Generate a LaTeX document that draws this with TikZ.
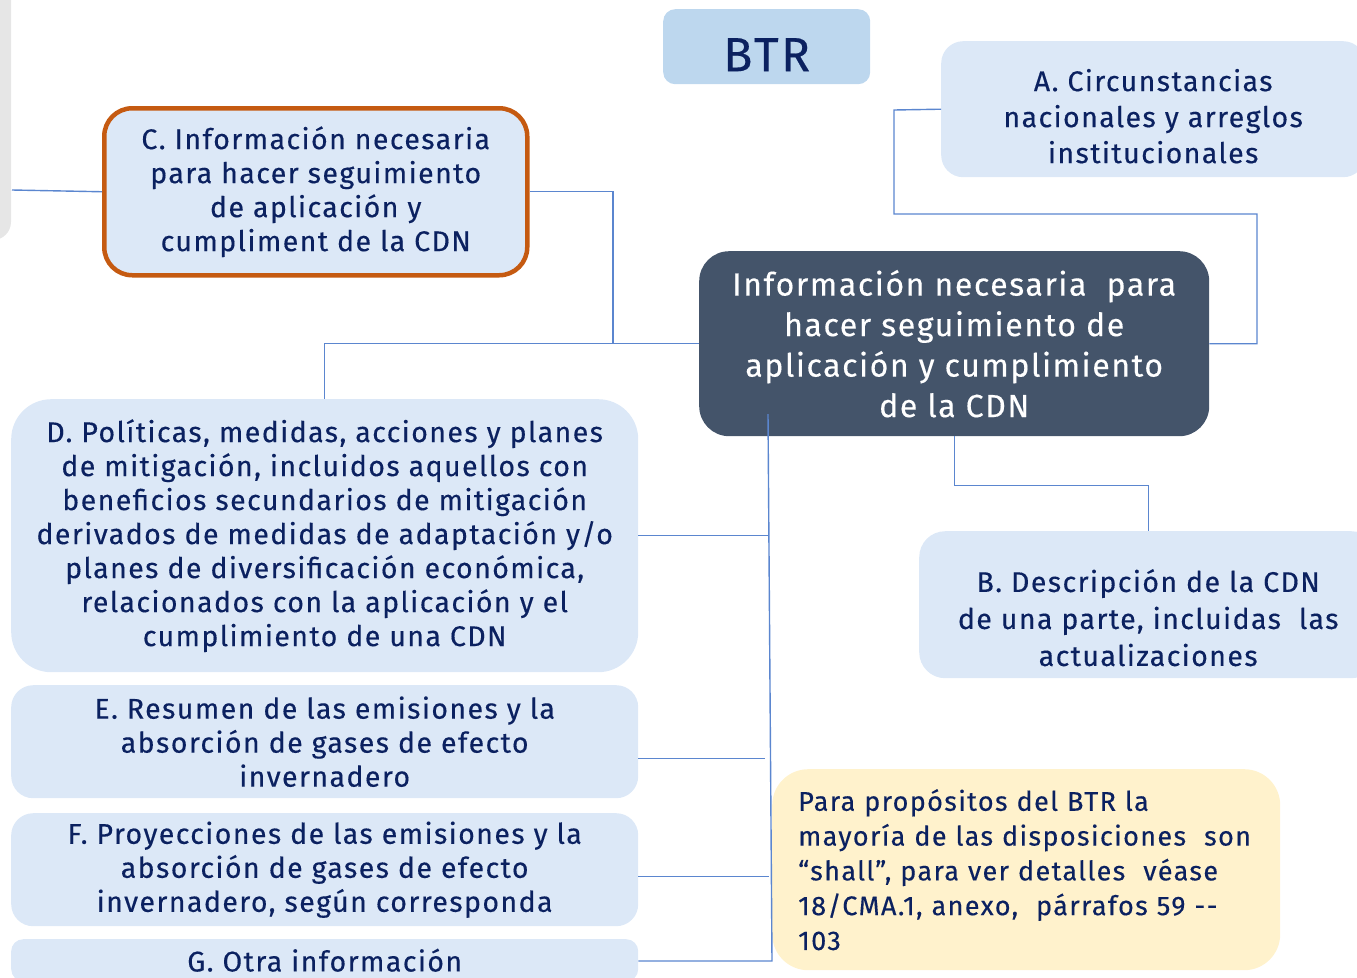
\documentclass[tikz,border=0pt]{standalone}
\usepackage{fontspec}
\setmainfont{Fira Sans}[LetterSpace=5,FakeBold=0.3]
\usetikzlibrary{positioning,calc}
\definecolor{navy}{HTML}{0B2160}
\definecolor{paleblue}{HTML}{DCE8F7}
\definecolor{btrblue}{HTML}{BDD7EE}
\definecolor{slate}{HTML}{44546A}
\definecolor{cream}{HTML}{FFF2CC}
\definecolor{rust}{HTML}{C55A11}
\definecolor{linkblue}{HTML}{5B86CF}
\definecolor{barcolor}{HTML}{E6E6E6}

\begin{document}
\begin{tikzpicture}[x=1pt,y=-1pt,
    box/.style={rectangle,rounded corners=22,fill=paleblue,text=navy,align=center,
      anchor=north west,inner sep=0pt,font=\fontsize{28.5}{34}\selectfont},
    caption/.style={text=navy,align=center,inner sep=0pt,font=\fontsize{28.5}{36}\selectfont},
    link/.style={draw=linkblue,line width=1.4pt}]
 \useasboundingbox (0,0) rectangle (1357,977);
 \fill[barcolor,rounded corners=18] (-30,-30) rectangle (11,240);

 % title and centre
 \node[box,fill=btrblue,minimum width=207,minimum height=75,rounded corners=12] (btr) at (663,9) {};
 \node[caption,font=\fontsize{48}{50}\selectfont] (btr text) at ($(btr.center)+(0,8)$) {BTR};
 \node[box,fill=slate,text=white,minimum width=510,minimum height=185,rounded corners=30,
   font=\fontsize{32}{40.5}\selectfont] (main) at (699,251)
   {Información necesaria\ \ para\\hacer seguimiento de\\aplicación y cumplimiento\\de la CDN};

 % right side
 \node[box,minimum width=424,minimum height=136] (A) at (941,41) {};
 \node[caption] (A text) at ($(A.center)+(0,7)$) {A. Circunstancias\\nacionales y arreglos\\institucionales};
 \node[box,minimum width=458,minimum height=147,rounded corners=26] (B) at (919,531) {};
 \node[caption,font=\fontsize{28.5}{37}\selectfont] (B text) at ($(B.center)+(0,13)$)
   {B. Descripción de la CDN\\de una parte, incluidas\ \ las\\actualizaciones};
 \node[box,fill=cream,minimum width=508,minimum height=201,rounded corners=36,
   text width=456,align=left,font=\fontsize{27}{34.8}\selectfont] (note) at (772,769)
   {Para propósitos del BTR la\\mayoría de las disposiciones\ \ son\\“shall”, para ver detalles\ \ véase\\18/CMA.1, anexo,\ \ párrafos 59 -{}-\\103};

 % left side
 \node[box,draw=rust,line width=4.5pt,minimum width=423,minimum height=167,rounded corners=28] (C) at (102,106)
   {C. Información necesaria\\para hacer seguimiento\\de aplicación y\\cumpliment de la CDN};
 \node[box,minimum width=627,minimum height=273,rounded corners=40] (D) at (11,399)
   {D. Políticas, medidas, acciones y planes\\de mitigación, incluidos aquellos con\\beneficios secundarios de mitigación\\derivados de medidas de adaptación y/o\\planes de diversificación económica,\\relacionados con la aplicación y el\\cumplimiento de una CDN};
 \node[box,minimum width=627,minimum height=113] (E) at (11,685)
   {E. Resumen de las emisiones y la\\absorción de gases de efecto\\invernadero};
 \node[box,minimum width=627,minimum height=113] (F) at (11,813)
   {F. Proyecciones de las emisiones y la\\absorción de gases de efecto\\invernadero, según corresponda};
 \node[box,minimum width=627,minimum height=42,rounded corners=12] (G) at (11,939)
   {G. Otra información};

 % connectors
 \coordinate (cjoint) at (613,344);
 \coordinate (cstub) at (12,190);
 \coordinate (ttop) at (768,414);
 \coordinate (tbot) at (772,961);
 \draw[link] (main.west) -- (D.north |- main.west) -- (D.north);
 \draw[link] (main.west -| cjoint) |- (C.east);
 \draw[link] (cstub) -- (C.west);
 \draw[link] (main.east) -| (1257,214) -| (894,110) -- (A.west);
 \draw[link] (main.south) -- ++(0,49) -| (B.north);
 \draw[link] (ttop) -- (tbot) -- (G.east |- tbot);
 \draw[link] (D.east) -- (D.east -| ttop);
 \draw[link] ($(E.east)+(0,16.5)$) -- ++(127,0);
 \draw[link] ($(F.east)+(0,6.5)$) -- ++(131,0);
\end{tikzpicture}
\end{document}
